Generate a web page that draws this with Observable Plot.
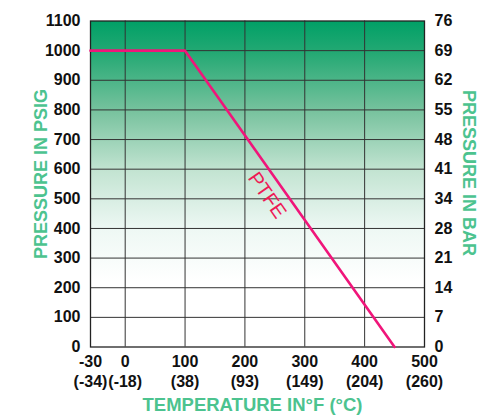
<!DOCTYPE html>
<html>
<head>
<meta charset="utf-8">
<script src="https://cdn.jsdelivr.net/npm/d3@7"></script>
<script src="https://cdn.jsdelivr.net/npm/@observablehq/plot@0.6"></script>
<style>
  html, body { margin: 0; padding: 0; background: #fff; }
  #chart { width: 478px; height: 419px; }
</style>
</head>
<body>
<div id="chart"></div>
<script>
// Temperature ticks (°F) and their Celsius labels
const tempTicksF = [-30, 0, 100, 200, 300, 400, 500];
const tempTicksC = ["(-34)", "(-18)", "(38)", "(93)", "(149)", "(204)", "(260)"];
// Pressure ticks (psig) and bar labels
const psigTicks = [0, 100, 200, 300, 400, 500, 600, 700, 800, 900, 1000, 1100];
const barLabels = ["0", "7", "14", "21", "28", "34", "41", "48", "55", "62", "69", "76"];
// PTFE rating curve
const ptfeTemp = [-30, 100, 450];
const ptfePsig = [1000, 1000, 0];
const ptfe = ptfeTemp.map((t, i) => ({temp: t, psig: ptfePsig[i]}));

const font = "Arial, 'Liberation Sans', sans-serif";
const green = "#4cc38f";

const plot = Plot.plot({
  width: 478,
  height: 419,
  marginLeft: 90,
  marginRight: 54,
  marginTop: 20.5,
  marginBottom: 72.5,
  style: {fontFamily: font, background: "#fff", overflow: "visible"},
  x: {type: "linear", domain: [-30, 0, 500], range: [90, 124.7, 424]},
  y: {domain: [0, 1100]},
  marks: [
    Plot.frame({fill: "url(#bg)", stroke: "none"}),
    Plot.gridX(tempTicksF.slice(1, -1), {stroke: "#333", strokeOpacity: 1, strokeWidth: 1}),
    Plot.gridY(psigTicks.slice(1, -1), {stroke: "#333", strokeOpacity: 1, strokeWidth: 1}),
    Plot.frame({stroke: "#222", strokeWidth: 1.3}),
    Plot.axisY(psigTicks, {anchor: "left", tickSize: 0, tickPadding: 10, label: null,
      tickFormat: d => String(d),
      fontSize: 16, fontWeight: "bold", fill: "#111"}),
    Plot.axisY(psigTicks, {anchor: "right", tickSize: 0, tickPadding: 10, label: null,
      tickFormat: d => barLabels[psigTicks.indexOf(d)],
      fontSize: 16, fontWeight: "bold", fill: "#111", textAnchor: "start"}),
    Plot.axisX(tempTicksF, {anchor: "bottom", tickSize: 0, tickPadding: 6, label: null,
      tickFormat: d => `${d}\n${tempTicksC[tempTicksF.indexOf(d)]}`,
      fontSize: 16, fontWeight: "bold", fill: "#111", lineHeight: 1.25}),
    Plot.line(ptfe, {x: "temp", y: "psig", stroke: "#f0157a", strokeWidth: 2.6}),
    Plot.text(["PTFE"], {x: 237, y: 512, rotate: 55, fill: "#ee1a55",
      fontSize: 20, fontFamily: font}),
    Plot.text(["PRESSURE IN PSIG"], {frameAnchor: "left", textAnchor: "middle", dx: -49, dy: -10,
      rotate: -90, fill: green, fontSize: 18, fontWeight: "bold"}),
    Plot.text(["PRESSURE IN BAR"], {frameAnchor: "right", textAnchor: "middle", dx: 44, dy: -11,
      rotate: 90, fill: green, fontSize: 18, fontWeight: "bold"}),
    Plot.text(["TEMPERATURE IN°F (°C)"], {frameAnchor: "bottom", textAnchor: "middle", dx: -5, dy: 64,
      fill: green, fontSize: 18.5, fontWeight: "bold"})
  ]
});

// gradient definition for the plot background
const ns = "http://www.w3.org/2000/svg";
const defs = document.createElementNS(ns, "defs");
const grad = document.createElementNS(ns, "linearGradient");
grad.setAttribute("id", "bg");
grad.setAttribute("x1", "0"); grad.setAttribute("y1", "0");
grad.setAttribute("x2", "0"); grad.setAttribute("y2", "1");
[["0", "#00a066"], ["0.1", "#25a974"], ["0.28", "#79c39f"], ["0.46", "#c3e4d2"],
 ["0.64", "#eef8f4"], ["0.8", "#ffffff"], ["1", "#ffffff"]].forEach(([o, c]) => {
  const s = document.createElementNS(ns, "stop");
  s.setAttribute("offset", o); s.setAttribute("stop-color", c);
  grad.appendChild(s);
});
defs.appendChild(grad);
plot.insertBefore(defs, plot.firstChild);

document.getElementById("chart").appendChild(plot);
</script>
</body>
</html>
